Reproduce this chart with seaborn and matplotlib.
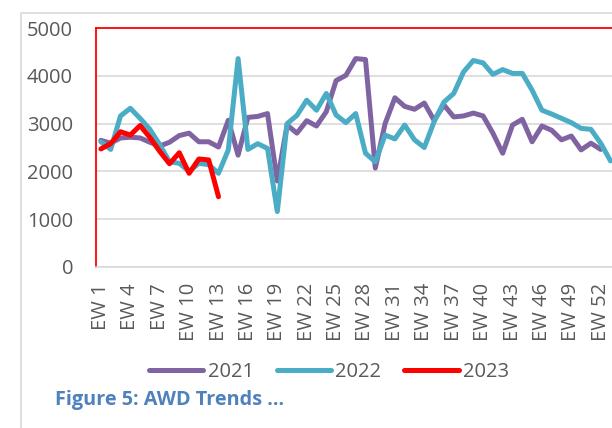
import matplotlib
matplotlib.use('Agg')
import matplotlib.pyplot as plt
import seaborn as sns
import pandas as pd
from matplotlib.patches import Rectangle

# ---------------- data ----------------
weeks = list(range(1, 54))
tick_weeks = list(range(1, 53, 3))
tick_labels = [f"EW {w}" for w in tick_weeks]
years = ["2021", "2022", "2023"]
colors = ["#8064A2", "#4BACC6", "#FF0000"]

y2021 = [2650, 2590, 2700, 2715, 2700, 2610, 2530, 2610, 2750, 2800,
         2620, 2620, 2510, 3070, 2340, 3130, 3150, 3210, 1800, 2970,
         2800, 3060, 2950, 3250, 3900, 4010, 4360, 4340, 2070, 3000,
         3540, 3360, 3300, 3430, 3070, 3390, 3140, 3160, 3220, 3160,
         2800, 2380, 2970, 3090, 2620, 2950, 2860, 2660, 2740, 2450,
         2590, 2460]
y2022 = [2620, 2460, 3160, 3320, 3110, 2880, 2560, 2200, 2170, 2000,
         2170, 2140, 1960, 2450, 4360, 2460, 2580, 2480, 1160, 3000,
         3170, 3490, 3280, 3630, 3180, 3020, 3210, 2380, 2200, 2760,
         2680, 2970, 2660, 2500, 3040, 3450, 3630, 4080, 4320, 4270,
         4030, 4130, 4050, 4050, 3700, 3280, 3200, 3110, 3020, 2900,
         2880, 2590, 2220]
y2023 = [2470, 2580, 2830, 2760, 2960, 2710, 2420, 2160, 2390, 1960,
         2260, 2240, 1470]

# ---------------- style ----------------
sns.set_theme(style="white")
plt.rcParams['font.family'] = ['Open Sans', 'DejaVu Sans']
txt_color = "#595959"
grid_color = "#D9D9D9"

rows = []
for yr, vals in zip(years, [y2021, y2022, y2023]):
    for w, v in zip(weeks, vals):
        rows.append({"week": w, "value": v, "year": yr})
df = pd.DataFrame(rows)

fig = plt.figure(figsize=(6.12, 4.28), dpi=100)
ax = fig.add_axes([96 / 612, 1 - 267 / 428, 519.4 / 612, 239 / 428])

sns.lineplot(data=df, x="week", y="value", hue="year", hue_order=years,
             palette=dict(zip(years, colors)), linewidth=3.6,
             estimator=None, ax=ax)
for ln in ax.lines:
    ln.set_solid_joinstyle('round')
    ln.set_solid_capstyle('round')

ax.set_ylim(0, 5000)
ax.set_yticks(range(0, 5001, 1000))
ax.set_xlim(0.5, 53.5)
ax.set_xticks(tick_weeks)
ax.set_xticklabels(tick_labels, rotation=90)
ax.set_xlabel("")
ax.set_ylabel("")
ax.yaxis.grid(True, color=grid_color, linewidth=1.2)
ax.xaxis.grid(False)
ax.set_axisbelow(True)

for side in ["top", "left", "right"]:
    ax.spines[side].set_color("#FF0000")
    ax.spines[side].set_linewidth(1.3)
ax.spines["bottom"].set_color(grid_color)
ax.spines["bottom"].set_linewidth(1.2)

ax.tick_params(axis="y", length=0, pad=16.5, labelsize=14.5, labelcolor=txt_color)
ax.tick_params(axis="x", length=0, pad=11.5, labelsize=14.5, labelcolor=txt_color)

# legend
handles, labels = ax.get_legend_handles_labels()
if ax.legend_ is not None:
    ax.legend_.remove()
leg = fig.legend(handles, labels, loc="center", bbox_to_anchor=(329 / 612, 1 - 372 / 428),
                 ncol=3, frameon=False, handlelength=2.7, handletextpad=0.2,
                 columnspacing=1.15, fontsize=14.5, labelcolor=txt_color)
for h in leg.get_lines():
    h.set_linewidth(3.6)
    h.set_solid_capstyle('round')

# caption
fig.text(55 / 612, 1 - 400 / 428, "Figure 5: AWD Trends ...", fontsize=14.3,
         weight="bold", color="#4F81BD", va="center", ha="left")

# outer chart border (clipped at right/bottom)
fig.add_artist(Rectangle((21 / 612, -0.1), 1.0, (1 - 13 / 428) + 0.1,
                         transform=fig.transFigure, fill=False,
                         edgecolor=grid_color, linewidth=1.2))

fig.savefig("out.png", dpi=100)
